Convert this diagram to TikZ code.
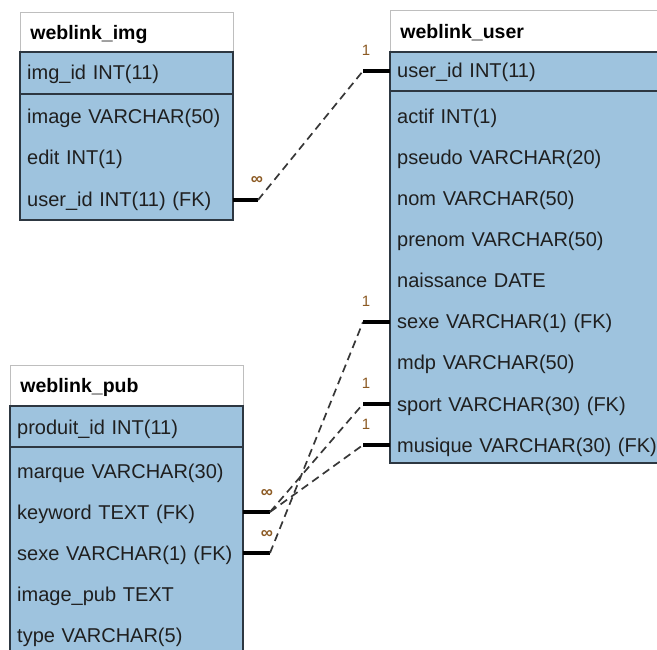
\documentclass[tikz,border=0pt]{standalone}
\usepackage{fontspec}
\setmainfont{Liberation Sans}
\definecolor{tblue}{RGB}{158,195,222}
\definecolor{tborder}{RGB}{45,55,65}
\definecolor{hborder}{RGB}{190,190,190}
\definecolor{lbl}{RGB}{140,90,35}
\definecolor{dashc}{RGB}{55,55,55}
\tikzset{
  rowtxt/.style={anchor=west, inner xsep=7pt, inner ysep=0pt, align=left,
    text height=15pt, text depth=1pt, minimum height=41pt,
    font=\fontsize{20}{22}\selectfont, text=black!88},
  titlebox/.style={anchor=north west, draw=hborder, line width=0.8pt, fill=white,
    inner xsep=10pt, inner ysep=0pt, align=left, text height=15pt, text depth=1pt,
    font=\fontsize{19.5}{22}\selectfont\bfseries},
  bodybox/.style={draw=tborder, line width=1.2pt, fill=tblue},
  sep/.style={draw=tborder, line width=1.2pt},
  stub/.style={line width=3.5pt, black},
  rel/.style={line width=1.7pt, dashc, dash pattern=on 8pt off 5pt},
  card/.style={font=\fontsize{15}{16}\selectfont, text=lbl, inner sep=0pt},
  cardinf/.style={font=\fontsize{17}{18}\selectfont\bfseries, text=lbl, inner sep=0pt},
}
\begin{document}
\begin{tikzpicture}[x=1pt,y=-1pt]
\useasboundingbox (0,0) rectangle (657,650);
\clip (0,0) rectangle (657,650);
\fill[white] (0,0) rectangle (657,650);

% ---------- weblink_img ----------
\node[titlebox, minimum width=213pt, minimum height=40pt, text width=193pt] (imgT) at (20,12) {weblink\_img};
\draw[bodybox] (20,52) rectangle (233,220);
\draw[sep] (20,94) -- (233,94);
\node[rowtxt, text width=199pt] (img0) at (20,73) {img\_id INT(11)};
\node[rowtxt, text width=199pt] (img1) at (20,117) {image VARCHAR(50)};
\node[rowtxt, text width=199pt] (img2) at (20,158) {edit INT(1)};
\node[rowtxt, text width=199pt] (img3) at (20,200) {user\_id INT(11) (FK)};

% ---------- weblink_user ----------
\node[titlebox, minimum width=320pt, minimum height=42pt, text width=300pt] (userT) at (390,10) {weblink\_user};
\draw[bodybox] (390,52) rectangle (710,463);
\draw[sep] (390,91) -- (710,91);
\node[rowtxt, text width=306pt] (u0) at (390,71) {user\_id INT(11)};
\node[rowtxt, text width=306pt] (u1) at (390,117) {actif INT(1)};
\node[rowtxt, text width=306pt] (u2) at (390,158) {pseudo VARCHAR(20)};
\node[rowtxt, text width=306pt] (u3) at (390,199) {nom VARCHAR(50)};
\node[rowtxt, text width=306pt] (u4) at (390,240) {prenom VARCHAR(50)};
\node[rowtxt, text width=306pt] (u5) at (390,281) {naissance DATE};
\node[rowtxt, text width=306pt] (u6) at (390,322) {sexe VARCHAR(1) (FK)};
\node[rowtxt, text width=306pt] (u7) at (390,363) {mdp VARCHAR(50)};
\node[rowtxt, text width=306pt] (u8) at (390,404) {sport VARCHAR(30) (FK)};
\node[rowtxt, text width=306pt] (u9) at (390,445) {musique VARCHAR(30) (FK)};

% ---------- weblink_pub ----------
\node[titlebox, minimum width=233pt, minimum height=41pt, text width=213pt] (pubT) at (10,365) {weblink\_pub};
\draw[bodybox] (10,406) rectangle (243,700);
\draw[sep] (10,447) -- (243,447);
\node[rowtxt, text width=219pt] (p0) at (10,427) {produit\_id INT(11)};
\node[rowtxt, text width=219pt] (p1) at (10,471) {marque VARCHAR(30)};
\node[rowtxt, text width=219pt] (p2) at (10,512) {keyword TEXT (FK)};
\node[rowtxt, text width=219pt] (p3) at (10,553) {sexe VARCHAR(1) (FK)};
\node[rowtxt, text width=219pt] (p4) at (10,594) {image\_pub TEXT};
\node[rowtxt, text width=219pt] (p5) at (10,635) {type VARCHAR(5)};

% ---------- connector ends ----------
\coordinate (a1) at (258,200);
\coordinate (b1) at (363,71);
\coordinate (a2) at (270,512);
\coordinate (a3) at (270,553);
\coordinate (b6) at (363,322);
\coordinate (b8) at (363,404);
\coordinate (b9) at (363,445);

% img.user_id -> user.user_id
\draw[stub] (img3.east) -- (a1);
\draw[rel] (a1) -- (b1);
\draw[stub] (b1) -- (u0.west);
\node[cardinf] (m1) at (257,181) {∞};
\node[card] (o1) at (366,50) {1};

% pub.sexe -> user.sexe
\draw[stub] (p3.east) -- (a3);
\draw[rel] (a3) -- (b6);
\draw[stub] (b6) -- (u6.west);
\node[card] (o6) at (366,301) {1};

% pub.keyword -> user.sport / user.musique
\draw[stub] (p2.east) -- (a2);
\draw[rel] (a2) -- (b8);
\draw[rel] (a2) -- (b9);
\draw[stub] (b8) -- (u8.west);
\draw[stub] (b9) -- (u9.west);
\node[card] (o8) at (366,383) {1};
\node[card] (o9) at (366,424) {1};
\node[cardinf] (m2) at (267,493) {∞};
\node[cardinf] (m3) at (267,534) {∞};
\end{tikzpicture}
\end{document}
